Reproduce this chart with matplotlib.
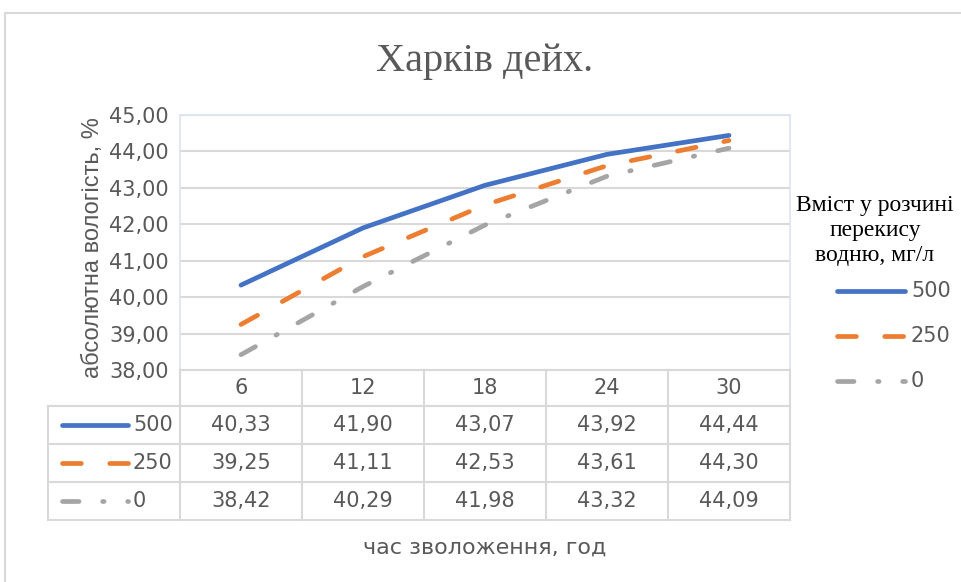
import matplotlib.pyplot as plt
from matplotlib.lines import Line2D
from matplotlib import transforms

# data
hours = [6, 12, 18, 24, 30]
series_names = ['500', '250', '0']
moist_500 = [40.33, 41.90, 43.07, 43.92, 44.44]
moist_250 = [39.25, 41.11, 42.53, 43.61, 44.30]
moist_0 = [38.42, 40.29, 41.98, 43.32, 44.09]
y_ticks = [38, 39, 40, 41, 42, 43, 44, 45]

series = [moist_500, moist_250, moist_0]

title = 'Харків дейх.'
legend_title = 'Вміст у розчині\nперекису\nводню, мг/л'
x_label = 'час зволоження, год'
y_label = 'абсолютна вологість, %'

W, H = 962, 582
def fx(px):
    return px / W
def fy(py):
    return 1 - py / H

SANS = ['Liberation Sans Narrow', 'DejaVu Sans']
SERIF = ['Liberation Serif', 'DejaVu Serif']
TXT = '#595959'
GRID = '#D9D9D9'

styles = [
    dict(color='#4472C4', lw=3.4, linestyle='-', solid_capstyle='round'),
    dict(color='#ED7D31', lw=3.4, linestyle=(0, (4, 6)), dash_capstyle='round'),
    dict(color='#A5A5A5', lw=3.4, linestyle=(0, (3.5, 5.0, 0.3, 5.0)), dash_capstyle='round'),
]

fig = plt.figure(figsize=(9.62, 5.82), dpi=100)

# outer frame
fig.add_artist(Line2D([fx(5), fx(5)], [fy(13), 0], color=GRID, lw=1.5))
fig.add_artist(Line2D([fx(5), 1], [fy(13), fy(13)], color=GRID, lw=1.5))

ax = fig.add_axes([fx(180), fy(370), fx(790) - fx(180), fy(115) - fy(370)])
xpos = [i + 0.5 for i in range(len(hours))]
for vals, st in zip(series, styles):
    ax.plot(xpos, vals, **st)

ax.set_xlim(0, len(hours))
ax.set_ylim(y_ticks[0], y_ticks[-1])
ax.set_yticks(y_ticks)
ax.set_yticklabels([f'{t:.2f}'.replace('.', ',') for t in y_ticks],
                   family=SANS, fontsize=15, color=TXT)
ax.tick_params(axis='y', length=0, pad=8)
ax.set_xticks([])
ax.grid(axis='y', color=GRID, lw=1.5)
ax.set_axisbelow(True)
for side in ['left', 'right', 'top']:
    ax.spines[side].set_color('#DAE3F3')
    ax.spines[side].set_linewidth(1.2)
ax.spines['bottom'].set_color(GRID)
ax.spines['bottom'].set_linewidth(1.5)

fig.text(0.5 * (fx(180) + fx(790)), fy(61), title, family=SERIF, fontsize=29,
         color=TXT, ha='center', va='center')
fig.text(fx(93), 0.5 * (fy(110) + fy(385)), y_label, family=['Liberation Sans', 'DejaVu Sans'],
         fontsize=17, color=TXT, rotation=90, ha='center', va='center')
fig.text(fx(485), fy(548), x_label, family=SANS, fontsize=16, color=TXT,
         ha='center', va='center')

# data table below the axes
tr = transforms.blended_transform_factory(ax.transData, fig.transFigure)
row_lines = [406, 444, 482, 520]
for yl in row_lines:
    fig.add_artist(Line2D([fx(48), fx(790)], [fy(yl), fy(yl)], color=GRID, lw=1.5))
fig.add_artist(Line2D([fx(48), fx(48)], [fy(406), fy(520)], color=GRID, lw=1.5))
for i in range(len(hours) + 1):
    fig.add_artist(Line2D([i, i], [fy(370), fy(520)], color=GRID, lw=1.5, transform=tr))

for x, h in zip(xpos, hours):
    fig.text(x, fy(388), str(h), transform=tr, family=SANS, fontsize=15,
             color=TXT, ha='center', va='center')

row_centers = [425, 463, 501]
for yc, name, vals, st in zip(row_centers, series_names, series, styles):
    for x, v in zip(xpos, vals):
        fig.text(x, fy(yc), f'{v:.2f}'.replace('.', ','), transform=tr, family=SANS,
                 fontsize=15, color=TXT, ha='center', va='center')
    fig.add_artist(Line2D([fx(62), fx(128)], [fy(yc), fy(yc)], **st))
    fig.text(fx(133), fy(yc), name, family=SANS, fontsize=15, color=TXT,
             ha='left', va='center')

# legend
fig.text(fx(875), fy(231), legend_title, family=SERIF, fontsize=17, color='black',
         ha='center', va='center', linespacing=1.25)
for yk, name, st in zip([291, 336, 381], series_names, styles):
    fig.add_artist(Line2D([fx(837), fx(905)], [fy(yk), fy(yk)], **st))
    fig.text(fx(911), fy(yk), name, family=SANS, fontsize=15, color=TXT,
             ha='left', va='center')

fig.savefig('out.png', dpi=100)
